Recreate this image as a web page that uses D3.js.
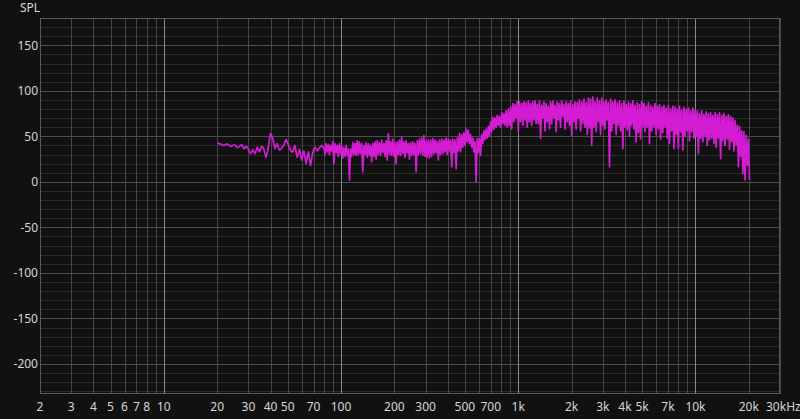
<!DOCTYPE html>
<html><head><meta charset="utf-8">
<script src="https://cdn.jsdelivr.net/npm/d3@7"></script>
<style>body{margin:0;background:#111111;} svg{display:block}</style>
</head><body>
<svg id="c" width="800" height="419"></svg>
<script>
// ---- data ----
const yTickValues = [150, 100, 50, 0, -50, -100, -150, -200];
const xTickValues = [2,3,4,5,6,7,8,10,20,30,40,50,70,100,200,300,500,700,1000,2000,3000,4000,5000,7000,10000,20000,30000];
const xTickLabels = ["2","3","4","5","6","7","8","10","20","30","40","50","70","100","200","300","500","700","1k","2k","3k","4k","5k","7k","10k","20k","30kHz"];
const startFreq = 20;        // Hz, first measurement point
const pointsPerOctave = 48;  // measurement resolution (1/48 octave)
// SPL readings, one block per octave starting at 20 Hz
const spl = [
 // 20-40 Hz
 43,42.5,42,41.5,41,40.5,40,40.5,41.5,41.5,41,40,39,39.5,40,40.5,40.5,39,37.5,38,39,40,41,39,
 36.5,37.5,39,38,36,33.5,31,33,35.5,33,31,34,38,36,33,36,39,38,36,31,27,32,38,46,
 // 40-80 Hz
 53,51,47.5,41,36.5,40,42,38,35,36,37,39,40,44,46.5,44,41,37,35,33,33,37,40,33,
 27,31,36,30,24,29,34,27,20,27,33,25,18,25,32,36,38,36,34,36,37,39,40,38,
 // 80-160 Hz
 38,30,42,33,41,30,40,34,44,20,42,32,40,28,42,31,40,26,38,28,40,29,36,2,
 36,28,43,30,42,29,45,30,44,31,42,11,40,30,43,27,42,29,40,22,42,28,44,25,
 // 160-320 Hz
 45,30,43,29,46,32,42,28,45,24,53,30,44,29,47,28,43,20,44,30,46,29,49,31,
 44,27,45,32,42,25,43,29,44,30,42,11,45,30,47,31,48,29,51,28,45,27,46,26,
 // 320-640 Hz
 46,28,47.5,31,46,32,44,24,46,30,47,31,46,33,48,30,47,34,46,16.5,47,32,46,14.5,
 48,34,53,33,52,38,54,40,58,44,57,42,52,38,48,33,44,0,47.5,32,48,29,52,42,
 // 640-1280 Hz
 56,46,58,48,61,50,66,55,71,58,70,60,73,62,72,60,76,64,75,62,78,60,80,62,
 82,58.5,86,66,85,70,88,55,88,66,86,62,88,68,87,60,89,66,86,62,88,68,89,64,
 // 1.28-2.56 kHz
 85,64,89,47.5,84,70,88,56,86,66,83,58.5,88,64,89,70,84,55,88,68,86,60,89,72,
 85,58,88,66,86,62,89,51,85,66,88,58,87,70,90,56,88,64,91,60,87,52,92,59,
 // 2.56-5.12 kHz
 91,40,93,60,88,55,92,66,89,52,92,62,88,58,90,68,87,16.5,91,56,88,64,90,52,
 87,62,89,56,86,36.5,89,60,85,57,88,50,86,62,89,58,84,44,87,54,85,47,88,60,
 // 5.12-10.24 kHz
 86,55,83,60,87,42,84,56,82,60,86,52,83,58,85,47,82,54,84,60,81,48,84,42,
 80,56,83,36.5,82,52,80,36.5,83,55,79,35,82,50,80,56,81,45,78,55,81,48,79,50,
 // 10.24-20.5 kHz
 78,31,75,48,78,44,74,50,77,40,75,46,76,48,73,42,76,38,74,48,76,25.5,73,45,
 75,40,72,47,74,36,72,44,70,34,67,40,62,16.5,61,28,56,9,55,2,51,18,47,2
];

// ---- layout ----
const L = 40, R = 780, T = 18, B = 394;
const svg = d3.select("#c");
const x = d3.scaleLog().domain([2, 30000]).range([L, R]);
const y = d3.scaleLinear().domain([-233, 180]).range([B, T]);

svg.append("rect").attr("x",0).attr("y",0).attr("width",800).attr("height",419).attr("fill","#111111");

// horizontal grid every 10 (major every 50)
const g = svg.append("g");
g.selectAll(".h").data(d3.range(-230, 181, 10)).join("line")
  .attr("x1", L).attr("x2", R)
  .attr("y1", d => Math.round(y(d)) + 0.5).attr("y2", d => Math.round(y(d)) + 0.5)
  .attr("stroke", d => d % 50 === 0 ? "#4e4e4e" : "#2a2a2a").attr("stroke-width", 1);

// vertical grid
const vLines = [];
for (let dec = 1; dec <= 10000; dec *= 10) for (let n = 1; n <= 9; n++) {
  const f = n * dec; if (f >= 2 && f <= 30000) vLines.push(f);
}
g.selectAll(".v").data(vLines).join("line")
  .attr("x1", d => Math.round(x(d)) + 0.5).attr("x2", d => Math.round(x(d)) + 0.5)
  .attr("y1", T).attr("y2", B)
  .attr("stroke", d => [10,100,1000,10000].includes(d) ? "#8a8a8a" : "#454545").attr("stroke-width", 1);

// border
svg.append("rect").attr("x", L + 0.5).attr("y", T + 0.5).attr("width", R - L - 1).attr("height", B - T - 1)
  .attr("fill", "none").attr("stroke", "#5a5a5a");

// curve
const pts = spl.map((v, i) => [startFreq * Math.pow(2, i / pointsPerOctave), v]);
const line = d3.line().x(d => x(d[0])).y(d => y(d[1]));
svg.append("path").datum(pts).attr("d", line)
  .attr("fill", "none").attr("stroke", "#d41cd4").attr("stroke-width", 1.7).attr("stroke-linejoin", "round");

// axes text
const font = "'Noto Sans', 'Open Sans', sans-serif";
svg.append("g").selectAll("text").data(yTickValues).join("text")
  .attr("x", 38).attr("y", d => y(d)).attr("dy", "0.35em")
  .attr("text-anchor", "end").attr("fill", "#d6d6d6").attr("font-family", font).attr("font-size", 12)
  .text(d => d);
svg.append("g").selectAll("text").data(xTickValues).join("text")
  .attr("x", (d, i) => x(d) + (i === xTickValues.length - 1 ? -14 : 0)).attr("y", 411)
  .attr("text-anchor", (d, i) => i === xTickValues.length - 1 ? "start" : "middle")
  .attr("fill", "#d6d6d6").attr("font-family", font).attr("font-size", 12)
  .text((d, i) => xTickLabels[i]);
svg.append("text").attr("x", 20).attr("y", 12).attr("fill", "#d6d6d6")
  .attr("font-family", font).attr("font-size", 12).text("SPL");
</script>
</body></html>
